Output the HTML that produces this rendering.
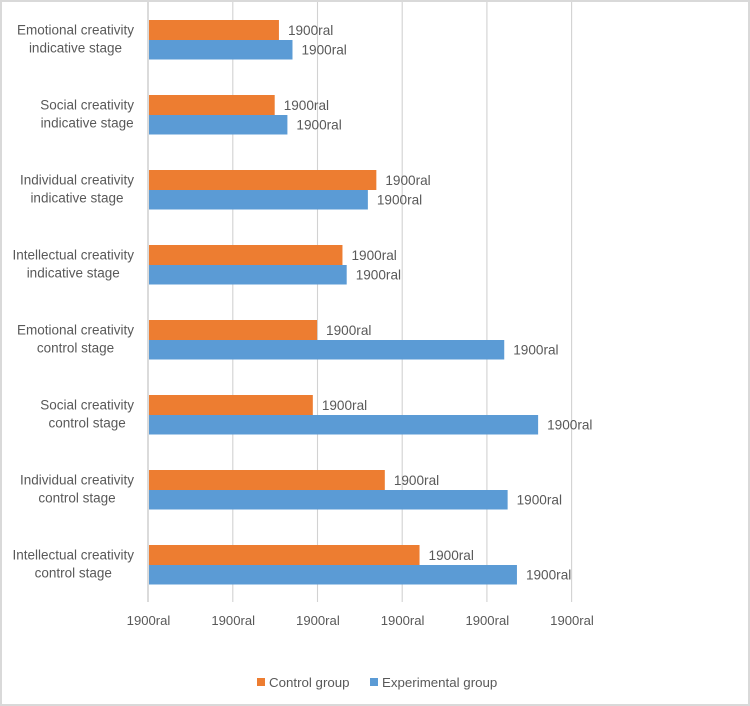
<!DOCTYPE html>
<html lang="en">
<head>
<meta charset="utf-8">
<title>Creativity bar chart</title>
<style>
html,body{margin:0;padding:0;background:#fff;}
svg{display:block;font-family:"Liberation Sans",sans-serif;}
text{fill:#595959;}
</style>
</head>
<body>
<svg id="chart" width="750" height="706" viewBox="0 0 750 706" xmlns="http://www.w3.org/2000/svg">
<rect x="1" y="1" width="748" height="704" fill="#fff" stroke="#d9d9d9" stroke-width="2"/>
</svg>
<script>
const categories = [
  ["Emotional creativity", "indicative stage"],
  ["Social creativity", "indicative stage"],
  ["Individual creativity", "indicative stage"],
  ["Intellectual creativity", "indicative stage"],
  ["Emotional creativity", "control stage"],
  ["Social creativity", "control stage"],
  ["Individual creativity", "control stage"],
  ["Intellectual creativity", "control stage"]
];
const controlValues = [1.54, 1.49, 2.69, 2.29, 1.99, 1.94, 2.79, 3.2];
const experimentalValues = [1.70, 1.64, 2.59, 2.34, 4.2, 4.6, 4.24, 4.35];
const controlLabels = ["1900ral", "1900ral", "1900ral", "1900ral", "1900ral", "1900ral", "1900ral", "1900ral"];
const experimentalLabels = ["1900ral", "1900ral", "1900ral", "1900ral", "1900ral", "1900ral", "1900ral", "1900ral"];
const tickValues = [0, 1, 2, 3, 4, 5];
const tickLabels = ["1900ral", "1900ral", "1900ral", "1900ral", "1900ral", "1900ral"];
const seriesNames = ["Control group", "Experimental group"];

const svg = document.getElementById('chart');
const NS = 'http://www.w3.org/2000/svg';
const ORANGE = '#ed7d31';
const BLUE = '#5b9bd5';
const x0 = 148.5, x1 = 572, plotTop = 2, plotBottom = 602;
const bandH = 75, barH = 19.5;
const labelRight = 134;

function xScale(v) {
  return x0 + (v - tickValues[0]) / (tickValues[tickValues.length - 1] - tickValues[0]) * (x1 - x0);
}
function bandY(i) {
  return 2.5 + bandH * i;
}
function make(tag, attrs, text) {
  const el = document.createElementNS(NS, tag);
  for (const k in attrs) el.setAttribute(k, attrs[k]);
  if (text !== undefined) el.textContent = text;
  svg.appendChild(el);
  return el;
}

tickValues.forEach(function (v, i) {
  const x = xScale(v);
  const grid = make('line', {x1: i === 0 ? x - 0.5 : x - 0.4, x2: i === 0 ? x - 0.5 : x - 0.4, y1: plotTop, y2: plotBottom, stroke: '#d2d2d2', 'stroke-width': i === 0 ? 1.6 : 1.1});
  
  
  const label = make('text', {x: x, y: 625, 'text-anchor': 'middle', 'font-size': 13.1}, tickLabels[i]);
  
  
});

categories.forEach(function (lines, i) {
  const y = bandY(i);
  const orangeTop = y + 17.5;
  const blueTop = orangeTop + 20;

  const line1 = make('text', {x: 0, y: y + 32, 'text-anchor': 'middle', 'font-size': 13.5}, lines[0]);
  
  
  const line2 = make('text', {x: 0, y: y + 50, 'text-anchor': 'middle', 'font-size': 13.5}, lines[1]);
  
  
  const widest = Math.max(line1.getComputedTextLength(), line2.getComputedTextLength());
  const cx = labelRight - widest / 2;
  line1.setAttribute('x', cx);
  line2.setAttribute('x', cx);

  const barC = make('rect', {x: x0 + 0.5, y: orangeTop, width: xScale(controlValues[i]) - x0 - 0.5, height: barH + 0.5, fill: ORANGE});
  
  
  const barE = make('rect', {x: x0 + 0.5, y: blueTop, width: xScale(experimentalValues[i]) - x0 - 0.5, height: barH, fill: BLUE});
  
  

  const labC = make('text', {x: xScale(controlValues[i]) + 9, y: orangeTop + 15, 'font-size': 13.6}, controlLabels[i]);
  
  
  const labE = make('text', {x: xScale(experimentalValues[i]) + 9, y: blueTop + 14.5, 'font-size': 13.6}, experimentalLabels[i]);
  
  
});

const legendXs = [257, 370];
const legendColors = [ORANGE, BLUE];
seriesNames.forEach(function (name, i) {
  const sw = make('rect', {x: legendXs[i], y: 678, width: 8, height: 8, fill: legendColors[i]});
  
  
  const t = make('text', {x: legendXs[i] + 12, y: 687, 'font-size': 13.3}, name);
  
  
});
</script>
</body>
</html>
